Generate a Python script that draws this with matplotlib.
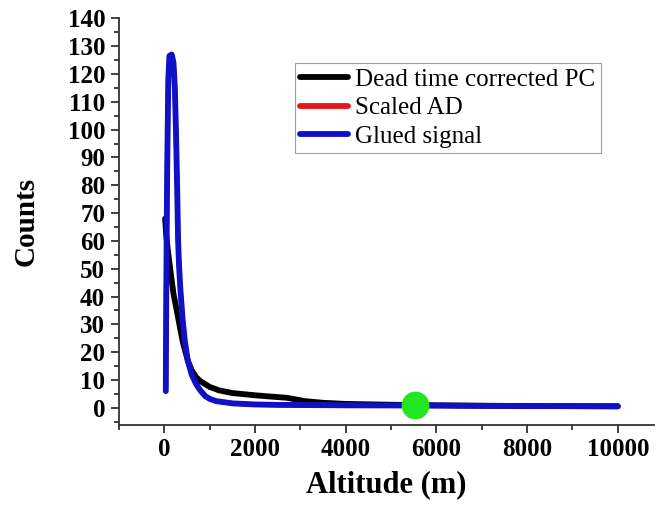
import matplotlib
matplotlib.use('Agg')
import matplotlib.pyplot as plt
from matplotlib.ticker import MultipleLocator

plt.rcParams['font.family'] = ['Liberation Serif', 'DejaVu Serif']

# dead time corrected photon counting signal
alt_pc = [15, 40, 80, 150, 200, 295, 400, 515, 600, 700, 800, 1000, 1200, 1500,
          2000, 2300, 2700, 2900, 3100, 3500, 4000, 5000, 6000, 7000, 8000, 9000, 10000]
pc = [68, 62, 56, 47, 41, 33, 24, 17, 13.5, 11, 9.5, 7.5, 6.3, 5.3,
      4.5, 4.1, 3.6, 3.0, 2.4, 1.8, 1.4, 1.1, 0.9, 0.75, 0.65, 0.6, 0.55]

# glued signal
alt_gl = [30, 40, 60, 85, 110, 160, 200, 230, 255, 280, 300, 320, 350, 400, 450, 515,
          600, 700, 780, 900, 1000, 1140, 1500, 2000, 2500, 3000, 4000, 5000, 6000,
          7000, 8000, 9000, 10000]
glued = [6, 40, 85, 118, 126.5, 127, 124, 115, 99, 80, 61, 52, 43, 32, 24, 17,
         12, 8.5, 6.5, 4.2, 3.2, 2.4, 1.6, 1.2, 1.05, 1.0, 0.9, 0.85, 0.8,
         0.7, 0.65, 0.6, 0.55]

# scaled analog signal (mostly hidden under the glued one)
alt_ad = [30, 40, 60, 85, 110, 160, 200, 230, 255, 280, 300, 320, 350, 400, 450, 515,
          600, 700, 780, 900, 1000, 1140, 1500, 2000, 2500, 3000, 4000, 5000, 6000,
          7000, 8000, 9000, 10000]
ad = [6, 40, 85, 118, 126.5, 127, 124, 115, 99, 80, 61, 52, 43, 32, 24, 17,
      12, 8.5, 6.5, 4.2, 3.2, 2.4, 1.6, 1.2, 1.05, 1.0, 0.9, 0.85, 0.8,
      0.75, 0.75, 0.72, 0.7]

# gluing point
glue_x = [5530]
glue_y = [1.0]

fig = plt.figure(figsize=(6.58, 5.09), dpi=100)
ax = fig.add_axes([0.181, 0.166, 0.813, 0.798])

ax.plot(alt_pc, pc, color='black', lw=4.2, solid_capstyle='round',
        label='Dead time corrected PC')
ax.plot(alt_ad, ad, color='#e8141b', lw=3.4, solid_capstyle='round',
        label='Scaled AD')
ax.plot(alt_gl, glued, color='#1010c8', lw=4.2, solid_capstyle='round',
        label='Glued signal')
ax.plot(glue_x, glue_y, 'o', color='#22e622', ms=19, zorder=5)

ax.set_xlim(-1000, 10800)
ax.set_ylim(-6, 140)
ax.xaxis.set_major_locator(MultipleLocator(2000))
ax.xaxis.set_minor_locator(MultipleLocator(1000))
ax.yaxis.set_major_locator(MultipleLocator(10))
ax.yaxis.set_minor_locator(MultipleLocator(5))

for s in ['top', 'right']:
    ax.spines[s].set_visible(False)
for s in ['left', 'bottom']:
    ax.spines[s].set_color('#333333')
    ax.spines[s].set_linewidth(1.3)

ax.tick_params(which='major', direction='out', length=6, width=1.3,
               color='#333333', labelsize=18, pad=4)
ax.tick_params(which='minor', direction='out', length=3.5, width=1.3,
               color='#333333')
for lab in ax.get_xticklabels() + ax.get_yticklabels():
    lab.set_fontweight('bold')

ax.set_xlabel('Altitude (m)', fontsize=22, fontweight='bold', labelpad=6)
ax.set_ylabel('Counts', fontsize=21, fontweight='bold', labelpad=20)

leg = ax.legend(loc='upper left', bbox_to_anchor=(0.449, 0.876),
                bbox_transform=fig.transFigure, fontsize=18, frameon=True,
                fancybox=False, edgecolor='#888888', handlelength=1.9,
                handletextpad=0.3, labelspacing=0.25, borderpad=0.2,
                borderaxespad=0)
leg.get_frame().set_linewidth(0.8)
for line in leg.get_lines():
    line.set_linewidth(4.2)

fig.savefig('out.png', dpi=100)
